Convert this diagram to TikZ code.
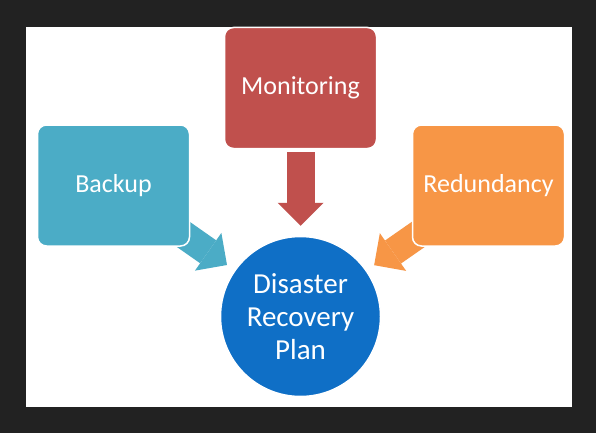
\documentclass[tikz,border=0pt]{standalone}
\usepackage{fontspec}
\setmainfont{Carlito}
\usetikzlibrary{arrows.meta}
\definecolor{frame}{HTML}{222222}
\definecolor{monred}{HTML}{C0504D}
\definecolor{backupblue}{HTML}{4BACC6}
\definecolor{redorange}{HTML}{F79646}
\definecolor{planblue}{HTML}{0F6FC6}
\pgfdeclarelayer{backdrop}
\pgfdeclarelayer{behind}
\pgfsetlayers{backdrop,behind,main}
\tikzset{
  tile/.style={rectangle, rounded corners=9pt, draw=white, line width=1.5pt,
    minimum width=152pt, minimum height=121pt, text=white,
    font=\fontsize{26}{31}\selectfont},
  hub/.style={circle, draw=white, line width=1.5pt, fill=planblue, minimum size=160pt,
    inner sep=0pt, text=white, align=center, font=\fontsize{29}{33}\selectfont},
  bigarrow/.style={line width=28pt, -{Triangle[width=46pt,length=23pt,line width=0pt]}}
}

\begin{document}
\begin{tikzpicture}[x=1pt,y=-1pt]
\newcommand{\cx}{300.5}
\useasboundingbox (0,0) rectangle (596,433);
\begin{pgfonlayer}{backdrop}
\fill[frame] (0,0) rectangle (596,433);
\fill[white] (26,27) rectangle (572,407);
\end{pgfonlayer}
\node[tile, fill=monred] (mon) at (\cx,88) {Monitoring};
\node[tile, fill=backupblue] (backup) at (113.5,185.5) {Backup};
\node[tile, fill=redorange] (redund) at (488.5,185.5) {Redundancy};
\node[hub] (drp) at (\cx,316.5) {Disaster\\Recovery\\Plan};
%%%%%%%%%%%
\begin{pgfonlayer}{behind}
\draw[bigarrow, monred, shorten <=3pt, shorten >=10pt] (mon) -- (drp);
\draw[bigarrow, backupblue, shorten <=-25pt, shorten >=9pt] (backup) -- (drp);
\draw[bigarrow, redorange, shorten <=-25pt, shorten >=9pt] (redund) -- (drp);
\end{pgfonlayer}
\end{tikzpicture}
\end{document}
